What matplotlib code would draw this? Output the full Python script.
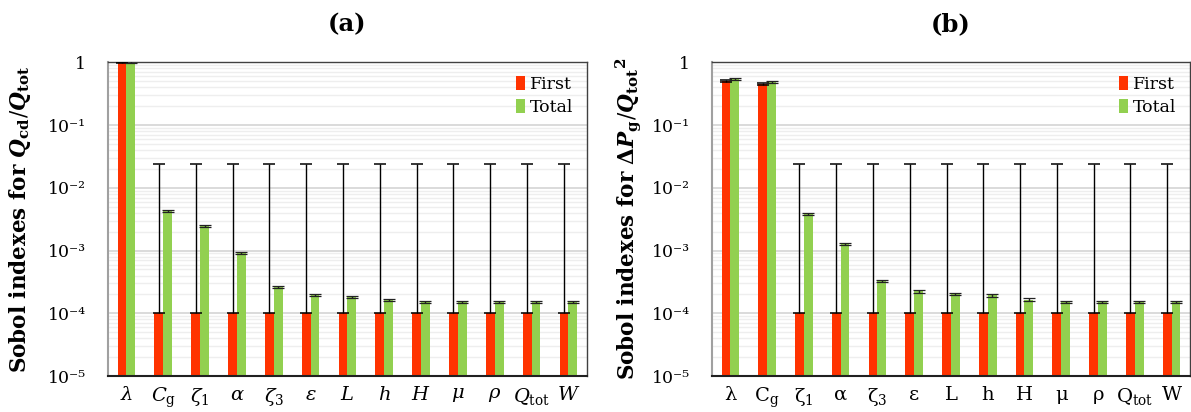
import numpy as np
import matplotlib
matplotlib.use("Agg")
import matplotlib.pyplot as plt
from matplotlib.ticker import LogLocator, FixedLocator, FixedFormatter

plt.rcParams['font.family'] = ['DejaVu Serif']
plt.rcParams['mathtext.fontset'] = 'custom'
plt.rcParams['mathtext.rm'] = 'DejaVu Serif'
plt.rcParams['mathtext.it'] = 'DejaVu Serif:italic'
plt.rcParams['mathtext.bf'] = 'DejaVu Serif:bold'
plt.rcParams['mathtext.bfit'] = 'DejaVu Serif:bold:italic'

# ---- data ----
labels_a = [r'$\lambda$', r'$C_\mathrm{g}$', r'$\zeta_\mathrm{1}$', r'$\alpha$', r'$\zeta_3$',
            r'$\varepsilon$', r'$L$', r'$h$', r'$H$', r'$\mu$', r'$\rho$',
            r'$Q_\mathrm{tot}$', r'$W$']
labels_b = ['λ', r'C$_\mathrm{g}$', r'ζ$_\mathrm{1}$', 'α', r'ζ$_\mathrm{3}$', 'ε', 'L', 'h', 'H',
            'μ', 'ρ', r'Q$_\mathrm{tot}$', 'W']
ytick_labels = ['10⁻⁵', '10⁻⁴', '10⁻³', '10⁻²', '10⁻¹', '1']

first_a = [1.0, 1e-4, 1e-4, 1e-4, 1e-4, 1e-4, 1e-4, 1e-4, 1e-4, 1e-4, 1e-4, 1e-4, 1e-4]
first_a_hi = [1.0, 0.024, 0.024, 0.024, 0.024, 0.024, 0.024, 0.024, 0.024, 0.024, 0.024, 0.024, 0.024]
total_a = [1.0, 0.0043, 0.0025, 0.00092, 0.00026, 0.000197, 0.000185, 0.000162,
           0.000152, 0.000152, 0.000152, 0.000152, 0.000152]

first_b = [0.50, 0.45, 1e-4, 1e-4, 1e-4, 1e-4, 1e-4, 1e-4, 1e-4, 1e-4, 1e-4, 1e-4, 1e-4]
first_b_hi = [0.52, 0.47, 0.024, 0.024, 0.024, 0.024, 0.024, 0.024, 0.024, 0.024, 0.024, 0.024, 0.024]
total_b = [0.54, 0.48, 0.00385, 0.00129, 0.00033, 0.000223, 0.000203, 0.000193,
           0.000166, 0.000152, 0.000150, 0.000150, 0.000150]

RED = '#FF3300'
GREEN = '#92D050'

fig = plt.figure(figsize=(11.91, 4.12), dpi=100)


def panel(rect, labels, first, first_hi, total, ylabel, title, ylabel_x):
    ax = fig.add_axes(rect)
    x = np.arange(len(labels))
    w = 0.24
    first = np.array(first)
    first_hi = np.array(first_hi)
    total = np.array(total)
    ax.bar(x - w / 2, first, width=w, color=RED, label='First', zorder=2)
    ax.bar(x + w / 2, total, width=w, color=GREEN, label='Total', zorder=2)
    lo = np.where(first_hi > 0.2, first * 0.03, 0.0)
    ax.errorbar(x - w / 2, first, yerr=[lo, first_hi - first], fmt='none',
                ecolor='black', elinewidth=1.0, capsize=4.2, capthick=1.1, zorder=3)
    ax.errorbar(x + w / 2, total, yerr=[total * 0.04, total * 0.04], fmt='none',
                ecolor='#222222', elinewidth=1.0, capsize=4.6, capthick=0.9, zorder=3)
    ax.set_yscale('log')
    ax.set_ylim(1e-5, 1)
    ax.set_xlim(-0.5, len(labels) - 0.5)
    ax.yaxis.set_major_locator(FixedLocator([1e-5, 1e-4, 1e-3, 1e-2, 1e-1, 1]))
    ax.yaxis.set_major_formatter(FixedFormatter(ytick_labels))
    ax.yaxis.set_minor_locator(LogLocator(base=10, subs=np.arange(2, 10)))
    ax.yaxis.set_minor_formatter(plt.NullFormatter())
    ax.grid(axis='y', which='major', color='#d4d4d4', linewidth=1.2, zorder=0)
    ax.grid(axis='y', which='minor', color='#eeeeee', linewidth=1.0, zorder=0)
    ax.set_axisbelow(True)
    ax.set_xticks(x)
    ax.set_xticklabels(labels, fontsize=14)
    ax.tick_params(axis='both', which='both', length=0)
    ax.tick_params(axis='x', pad=7)
    ax.tick_params(axis='y', labelsize=12.5, pad=16)
    for s in ['top', 'right']:
        ax.spines[s].set_color('#404040')
        ax.spines[s].set_linewidth(1.0)
    ax.spines['left'].set_color('#a0a0a0')
    ax.spines['left'].set_linewidth(1.5)
    ax.spines['bottom'].set_color('#202020')
    ax.spines['bottom'].set_linewidth(1.5)
    ax.set_ylabel(ylabel, fontsize=15.5, fontweight='bold')
    ax.yaxis.set_label_coords(ylabel_x, 0.5)
    ax.set_title(title, fontsize=17.5, fontweight='bold', pad=22)
    ax.legend(loc='upper right', frameon=False, fontsize=12.5, handlelength=0.55,
              handleheight=0.85, handletextpad=0.25, labelspacing=0.35,
              borderaxespad=0.4)
    return ax


panel([0.0907, 0.087, 0.402, 0.762], labels_a, first_a, first_a_hi, total_a,
      r'Sobol indexes for $\mathbfit{Q}_{\mathbf{cd}}/\mathbfit{Q}_{\mathbf{tot}}$', '(a)',
      -0.156)
panel([0.5978, 0.087, 0.4013, 0.762], labels_b, first_b, first_b_hi, total_b,
      r'Sobol indexes for $\mathbf{\Delta}\mathbfit{P}_{\mathbf{g}}/\mathbfit{Q}_{\mathbf{tot}}{}^{\mathbf{2}}$', '(b)',
      -0.144)

fig.savefig('out.png', dpi=100)
